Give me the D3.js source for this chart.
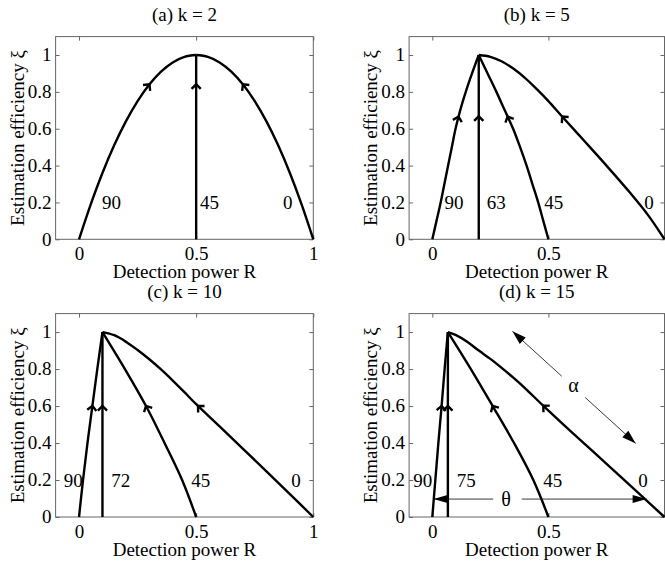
<!DOCTYPE html>
<html>
<head>
<meta charset="utf-8">
<script src="https://cdn.jsdelivr.net/npm/d3@7"></script>
<style>
  html, body { margin: 0; padding: 0; background: #fff; }
  svg { display: block; }
  text { font-family: "Liberation Serif", "Times New Roman", serif; fill: #000; }
</style>
</head>
<body>
<script>
// ---- data -------------------------------------------------------------
const kValues = [2, 5, 10, 15];
const panelTitles = ["(a) k = 2", "(b) k = 5", "(c) k = 10", "(d) k = 15"];
const thetaLabels = [["90", "45", "0"], ["90", "63", "45", "0"], ["90", "72", "45", "0"], ["90", "75", "45", "0"]];
const xTicks = [0, 0.5, 1];
const yTicks = [0, 0.2, 0.4, 0.6, 0.8, 1];
const xAxisLabel = "Detection power R";
const yAxisLabel = "Estimation efficiency ξ";

// each curve: [R, xi] pairs, ordered from xi = 0 up to the peak
const curveA90 = [[0, 0], [0.05, 0.19], [0.1, 0.36], [0.15, 0.51], [0.2, 0.64], [0.25, 0.75], [0.3, 0.84], [0.35, 0.91], [0.4, 0.96], [0.45, 0.99], [0.5, 1]];
const curveA45 = [[0.5, 0], [0.5, 1]];
const curveA0 = [[1, 0], [0.95, 0.19], [0.9, 0.36], [0.85, 0.51], [0.8, 0.64], [0.75, 0.75], [0.7, 0.84], [0.65, 0.91], [0.6, 0.96], [0.55, 0.99], [0.5, 1]];

const curveB90 = [[0, 0], [0.018, 0.1], [0.036, 0.2], [0.052, 0.3], [0.068, 0.4], [0.084, 0.5], [0.1, 0.6], [0.12, 0.7], [0.144, 0.8], [0.171, 0.9], [0.2, 1]];
const curveB63 = [[0.2, 0], [0.2, 1]];
const curveB45 = [[0.5, 0], [0.478, 0.1], [0.456, 0.2], [0.431, 0.3], [0.406, 0.4], [0.378, 0.5], [0.348, 0.6], [0.312, 0.7], [0.276, 0.8], [0.238, 0.9], [0.2, 1]];
const curveB0 = [[1, 0], [0.93, 0.13], [0.85, 0.255], [0.75, 0.4], [0.65, 0.54], [0.56, 0.665], [0.5, 0.75], [0.45, 0.815], [0.4, 0.875], [0.35, 0.925], [0.3, 0.965], [0.25, 0.99], [0.2, 1]];

const curveC90 = [[0, 0], [0.017, 0.2], [0.036, 0.4], [0.057, 0.6], [0.078, 0.8], [0.1, 1]];
const curveC72 = [[0.1, 0], [0.1, 1]];
const curveC45 = [[0.5, 0], [0.44, 0.2], [0.365, 0.4], [0.286, 0.6], [0.196, 0.8], [0.1, 1]];
const curveC0 = [[1, 0], [0.9, 0.124], [0.8, 0.247], [0.7, 0.369], [0.6, 0.49], [0.5, 0.61], [0.45, 0.675], [0.4, 0.738], [0.35, 0.798], [0.3, 0.853], [0.25, 0.903], [0.2, 0.948], [0.15, 0.983], [0.1, 1]];

const curveD90 = [[0, 0], [0.013, 0.2], [0.026, 0.4], [0.04, 0.6], [0.053, 0.8], [0.067, 1]];
const curveD75 = [[0.067, 0], [0.067, 1]];
const curveD45 = [[0.5, 0], [0.435, 0.2], [0.352, 0.4], [0.26, 0.6], [0.166, 0.8], [0.067, 1]];
const curveD0 = [[1, 0], [0.9, 0.115], [0.8, 0.23], [0.7, 0.345], [0.6, 0.459], [0.475, 0.605], [0.4, 0.696], [0.35, 0.752], [0.3, 0.805], [0.25, 0.855], [0.2, 0.9], [0.15, 0.948], [0.1, 0.985], [0.067, 1]];

const panelCurves = [
  [curveA90, curveA45, curveA0],
  [curveB90, curveB63, curveB45, curveB0],
  [curveC90, curveC72, curveC45, curveC0],
  [curveD90, curveD75, curveD45, curveD0]
];

// ---- layout -----------------------------------------------------------
const W = 665, H = 564;
const colLeft = [55.6, 409.1], colRight = [313.3, 664.5];
const rowTop = [36.6, 313.6], rowBottom = [239.3, 517];
const xDomain = [-0.1, 1], yDomain = [0, 1.1];
const arrowXi = [0.84, 0.665, 0.6, 0.6];            // height of the direction arrows in each panel
const labelR = [[0.098, 0.516, 0.871], [0.052, 0.234, 0.482, 0.913],
                [-0.065, 0.138, 0.479, 0.906], [-0.082, 0.105, 0.478, 0.887]];  // left edge of angle labels
const labelXi = 0.2;
const FS = 19;
const boxColor = "#666";

const svg = d3.select("body").append("svg").attr("width", W).attr("height", H);
svg.append("rect").attr("width", W).attr("height", H).attr("fill", "#fff");

const line = d3.line().curve(d3.curveCatmullRom.alpha(0.5));

function chevron(g, node, yTarget) {
  const L = node.getTotalLength();
  let prev = node.getPointAtLength(0), hit = null;
  for (let l = 0.5; l <= L; l += 0.5) {
    const p = node.getPointAtLength(l);
    if ((prev.y - yTarget) * (p.y - yTarget) <= 0) { hit = l; break; }
    prev = p;
  }
  if (hit === null) return;
  const p = node.getPointAtLength(hit);
  const a = node.getPointAtLength(Math.max(0, hit - 3));
  const b = node.getPointAtLength(Math.min(L, hit + 3));
  const ang = Math.atan2(b.y - a.y, b.x - a.x);
  const len = 6.5, spread = Math.PI * 0.75;
  const p1 = [p.x + len * Math.cos(ang + spread), p.y + len * Math.sin(ang + spread)];
  const p2 = [p.x + len * Math.cos(ang - spread), p.y + len * Math.sin(ang - spread)];
  g.append("path")
    .attr("d", `M${p1[0]},${p1[1]}L${p.x},${p.y}L${p2[0]},${p2[1]}`)
    .attr("fill", "none").attr("stroke", "#000").attr("stroke-width", 2.4)
    .attr("stroke-linejoin", "miter");
}

function filledHead(g, tip, from, len, half) {
  const ang = Math.atan2(tip[1] - from[1], tip[0] - from[0]);
  const bx = tip[0] - len * Math.cos(ang), by = tip[1] - len * Math.sin(ang);
  const nx = -Math.sin(ang) * half, ny = Math.cos(ang) * half;
  g.append("path")
    .attr("d", `M${tip[0]},${tip[1]}L${bx + nx},${by + ny}L${bx - nx},${by - ny}Z`)
    .attr("fill", "#000");
}

const scales = [];

panelCurves.forEach((curves, i) => {
  const col = i % 2, row = Math.floor(i / 2);
  const x = d3.scaleLinear().domain(xDomain).range([colLeft[col], colRight[col]]);
  const y = d3.scaleLinear().domain(yDomain).range([rowBottom[row], rowTop[row]]);
  scales.push({ x, y });
  const g = svg.append("g");

  // box
  g.append("rect")
    .attr("x", x(xDomain[0])).attr("y", y(yDomain[1]))
    .attr("width", x(xDomain[1]) - x(xDomain[0])).attr("height", y(yDomain[0]) - y(yDomain[1]))
    .attr("fill", "none").attr("stroke", boxColor).attr("stroke-width", 1);

  // axes with inward ticks on all four sides
  const bottom = g.append("g").attr("transform", `translate(0,${y(0)})`)
    .call(d3.axisBottom(x).tickValues(xTicks).tickSizeInner(-4).tickSizeOuter(0).tickPadding(0).tickFormat(d => String(d)));
  const left = g.append("g").attr("transform", `translate(${x(xDomain[0])},0)`)
    .call(d3.axisLeft(y).tickValues(yTicks).tickSizeInner(-4).tickSizeOuter(0).tickPadding(4).tickFormat(d => String(d)));
  g.append("g").attr("transform", `translate(0,${y(yDomain[1])})`)
    .call(d3.axisTop(x).tickValues(xTicks).tickSizeInner(-4).tickSizeOuter(0).tickFormat(""));
  g.append("g").attr("transform", `translate(${x(xDomain[1])},0)`)
    .call(d3.axisRight(y).tickValues(yTicks).tickSizeInner(-4).tickSizeOuter(0).tickFormat(""));
  g.selectAll(".domain").remove();
  g.selectAll(".tick line").attr("stroke", boxColor);
  g.selectAll(".tick text").attr("font-size", FS).attr("font-family", "Liberation Serif, Times New Roman, serif").attr("fill", "#000");
  bottom.selectAll(".tick text").attr("y", 20.5).attr("dy", null);
  left.selectAll(".tick text").attr("dy", "0.3em");
  bottom.selectAll(".tick").filter(d => x(d) > W - 6).select("text").remove();

  // curves
  curves.forEach(c => {
    const path = g.append("path")
      .attr("d", line(c.map(d => [x(d[0]), y(d[1])])))
      .attr("fill", "none").attr("stroke", "#000").attr("stroke-width", 2.4)
      .attr("stroke-linejoin", "round");
    chevron(g, path.node(), y(arrowXi[i]));
  });

  // angle labels
  thetaLabels[i].forEach((t, j) => {
    g.append("text").attr("x", x(labelR[i][j])).attr("y", y(labelXi) + 7)
      .attr("font-size", FS).text(t);
  });

  // titles and axis labels
  const cx = (x(xDomain[0]) + x(xDomain[1])) / 2;
  const cy = (y(yDomain[0]) + y(yDomain[1])) / 2;
  g.append("text").attr("x", cx).attr("y", y(yDomain[1]) - 15.5)
    .attr("text-anchor", "middle").attr("font-size", FS).text(panelTitles[i]);
  g.append("text").attr("x", cx).attr("y", y(0) + 38.5)
    .attr("text-anchor", "middle").attr("font-size", FS).text(xAxisLabel);
  g.append("text").attr("transform", `translate(${x(xDomain[0]) - 32},${cy}) rotate(-90)`)
    .attr("text-anchor", "middle").attr("font-size", FS).text(yAxisLabel);
});

// ---- annotation of the two parameters in panel (d) ---------------------
{
  const { x, y } = scales[3];
  const g = svg.append("g");
  const stroke = "#222";

  // alpha: along the curves
  const t1 = [x(0.345), y(1.004)], t2 = [x(0.876), y(0.398)];
  const at = t => [t1[0] + (t2[0] - t1[0]) * t, t1[1] + (t2[1] - t1[1]) * t];
  const s1 = at(0.40), s2 = at(0.59), mid = at(0.495);
  g.append("line").attr("x1", t1[0]).attr("y1", t1[1]).attr("x2", s1[0]).attr("y2", s1[1])
    .attr("stroke", stroke).attr("stroke-width", 0.9);
  g.append("line").attr("x1", s2[0]).attr("y1", s2[1]).attr("x2", t2[0]).attr("y2", t2[1])
    .attr("stroke", stroke).attr("stroke-width", 0.9);
  filledHead(g, t1, t2, 14, 4.5);
  filledHead(g, t2, t1, 14, 4.5);
  g.append("text").attr("x", mid[0]).attr("y", mid[1] + 5)
    .attr("text-anchor", "middle").attr("font-size", 20).text("α");

  // theta: across the curves
  const yy = y(0.097);
  const l1 = [x(0.005), yy], l2 = [x(0.923), yy];
  g.append("line").attr("x1", l1[0]).attr("y1", yy).attr("x2", x(0.262)).attr("y2", yy)
    .attr("stroke", stroke).attr("stroke-width", 0.9);
  g.append("line").attr("x1", x(0.385)).attr("y1", yy).attr("x2", l2[0]).attr("y2", yy)
    .attr("stroke", stroke).attr("stroke-width", 0.9);
  filledHead(g, l1, l2, 14, 4);
  filledHead(g, l2, l1, 14, 4);
  g.append("text").attr("x", x(0.318)).attr("y", yy + 6.5)
    .attr("text-anchor", "middle").attr("font-size", 20).text("θ");
}
</script>
</body>
</html>
